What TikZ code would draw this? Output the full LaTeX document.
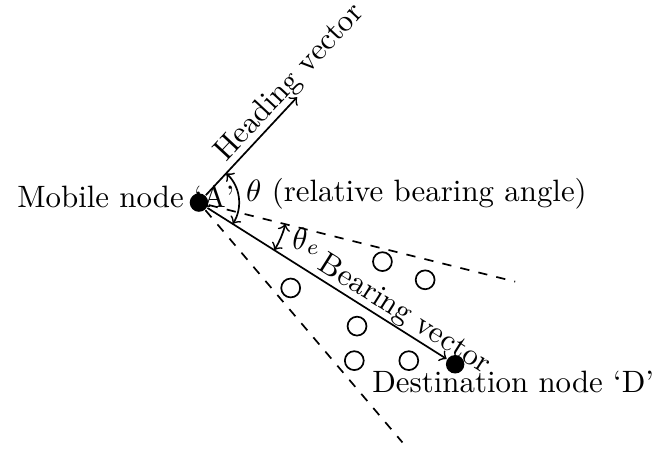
\documentclass[tikz,border=0pt]{standalone}
\usepackage{amsmath}
\begin{document}
\begin{tikzpicture}[scale=1.034, line width=0.55pt]
    \tikzstyle{every node}+=[inner sep=0pt]
    \tikzstyle{dot}=[circle, fill=black, minimum size=0.21cm]
    \tikzstyle{relay}=[circle, draw=black, minimum size=0.215cm]
    \useasboundingbox (-2.19,-2.74) rectangle (5.02,2.23);
    \node [dot] (A) at (0,0) {};
    \node [dot] (D) at (2.82,-1.78) {};
    \coordinate (H) at (1.08,1.16);
    \coordinate (U) at (3.48,-0.87);
    \coordinate (L) at (2.24,-2.64);
    \node [relay] (n1) at (2.02,-0.65) {};
    \node [relay] (n2) at (2.49,-0.85) {};
    \node [relay] (n3) at (1.01,-0.94) {};
    \node [relay] (n4) at (1.74,-1.36) {};
    \node [relay] (n5) at (1.71,-1.74) {};
    \node [relay] (n6) at (2.31,-1.74) {};
    \draw [black, dashed] (A) -- (U);
    \draw [black, dashed] (A) -- (L);
    \draw [black, ->] (A) -- (H) node [pos=1.04, sloped, above] (hv) {Heading vector};
    \draw [black, ->] (A) -- (D) node [pos=0.79, sloped, above] (bv) {Bearing vector};
    \draw [black, <->] (47:0.44) arc (47:-32.3:0.44);
    \draw [black, <->] (-14:0.98) arc (-14:-32.3:0.98);
    \node [anchor=base east] (lblA) at (0.40,-0.05) {Mobile node `A'};
    \node [anchor=base west] (theta) at (0.51,0.01) {$\theta$ (relative bearing angle)};
    \node [anchor=base west] (thetae) at (1.02,-0.52) {$\theta_e$};
    \node [anchor=base west] (lblD) at (1.90,-2.09) {Destination node `D'};
\end{tikzpicture}
\end{document}
